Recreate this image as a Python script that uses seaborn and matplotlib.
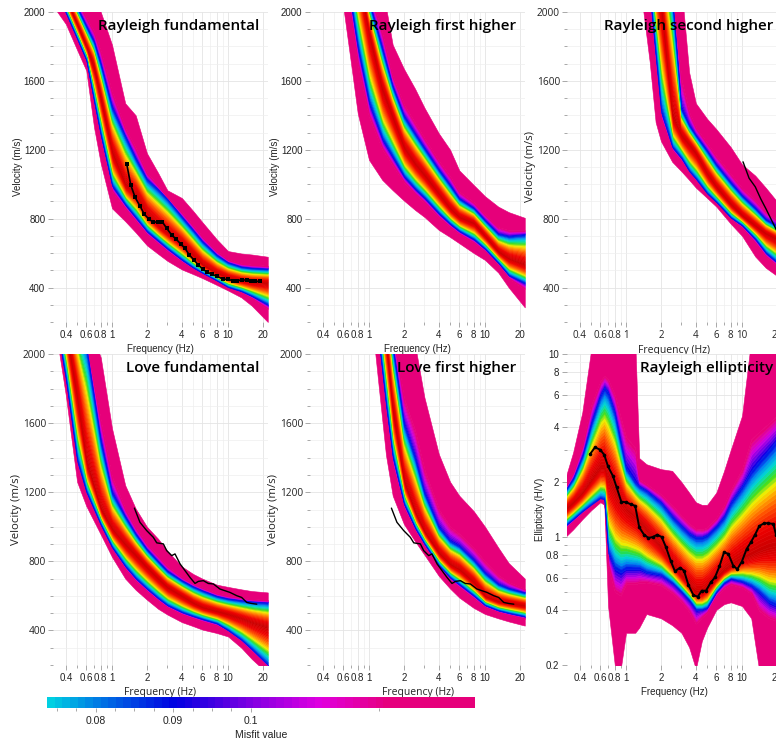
import numpy as np
import matplotlib
matplotlib.use("Agg")
import matplotlib.pyplot as plt
import seaborn as sns
from matplotlib.colors import LinearSegmentedColormap, Normalize
from matplotlib.cm import ScalarMappable
from matplotlib.ticker import FixedLocator, FixedFormatter, NullFormatter

# ---------------- data ----------------
# Rayleigh fundamental: ensemble envelopes (velocity m/s at each frequency)
rf_freq   = [0.3, 0.4, 0.5, 0.6, 0.7, 0.8, 1.0, 1.3, 1.6, 2, 2.5, 3, 4, 5, 6, 8, 10, 13, 16, 22]
rf_lo_out = [2050, 1930, 1780, 1660, 1330, 1120, 860, 785, 720, 645, 595, 555, 505, 478, 455, 415, 383, 343, 295, 200]
rf_lo_blu = [2176, 1993, 1843, 1719, 1477, 1280, 990, 880, 805, 725, 670, 625, 560, 515, 485, 440, 402, 378, 350, 300]
rf_best   = [2350, 2080, 1930, 1800, 1680, 1500, 1190, 1000, 945, 830, 765, 722, 657, 590, 535, 485, 460, 442, 433, 428]
rf_hi_blu = [2380, 2160, 2030, 1920, 1830, 1700, 1450, 1280, 1150, 1030, 970, 915, 812, 735, 670, 590, 547, 522, 515, 510]
rf_hi_out = [2400, 2300, 2200, 2120, 2060, 2000, 1810, 1470, 1400, 1180, 1065, 965, 920, 845, 780, 680, 612, 598, 592, 579]
rf_obs_f = [1.34, 1.45, 1.58, 1.74, 1.90, 2.08, 2.27, 2.51, 2.71, 2.96, 3.27, 3.56, 3.91, 4.26, 4.64,
            5.09, 5.55, 6.04, 6.55, 7.23, 7.98, 9.1, 10.0, 10.98, 12.0, 13.1, 14.5, 15.8, 17.2, 18.9]
rf_obs_v = [1116, 996, 924, 874, 825, 798, 779, 782, 782, 744, 705, 682, 653, 628, 589,
            560, 531, 508, 492, 477, 467, 448, 448, 440, 440, 444, 444, 438, 436, 436]

# Rayleigh first higher
r1_freq   = [0.6, 0.7, 0.8, 1.0, 1.3, 1.6, 2, 2.5, 3, 4, 5, 6, 8, 10, 13, 16, 22]
r1_lo_out = [2030, 1700, 1410, 1141, 1025, 965, 905, 850, 810, 734, 693, 657, 600, 560, 487, 400, 285]
r1_lo_blu = [2309, 2037, 1788, 1471, 1261, 1156, 1044, 971, 920, 829, 768, 726, 679, 623, 542, 470, 425]
r1_best   = [2650, 2450, 2250, 1876, 1550, 1390, 1215, 1120, 1055, 945, 860, 810, 775, 700, 610, 570, 535]
r1_hi_blu = [2750, 2570, 2390, 2065, 1790, 1570, 1397, 1293, 1211, 1085, 996, 918, 863, 792, 714, 700, 710]
r1_hi_out = [2900, 2750, 2600, 2350, 2150, 1810, 1670, 1553, 1445, 1295, 1200, 1080, 995, 930, 870, 838, 805]

# Rayleigh second higher
r2_freq   = [1.2, 1.4, 1.6, 1.8, 2, 2.5, 3, 3.5, 4, 5, 6, 8, 10, 13, 16, 20, 24]
r2_lo_out = [2350, 2020, 1710, 1360, 1250, 1130, 1075, 1025, 980, 920, 870, 770, 700, 580, 515, 468, 440]
r2_lo_blu = [2600, 2400, 2100, 1740, 1420, 1215, 1150, 1075, 1030, 945, 895, 805, 760, 680, 600, 545, 510]
r2_best   = [3000, 2800, 2500, 2250, 2050, 1400, 1285, 1230, 1180, 1062, 985, 885, 820, 760, 715, 680, 650]
r2_hi_blu = [3300, 3100, 2900, 2700, 2500, 2100, 1440, 1345, 1285, 1195, 1115, 1010, 935, 862, 797, 760, 730]
r2_hi_out = [3500, 3300, 3100, 2900, 2700, 2400, 2150, 1650, 1470, 1380, 1320, 1215, 1115, 1050, 980, 900, 860]
r2_obs_f = [10.2, 11.5, 13, 14.5, 16, 18, 20, 22]
r2_obs_v = [1130, 1035, 985, 915, 860, 790, 728, 690]

# Love fundamental
lf_freq   = [0.3, 0.35, 0.4, 0.5, 0.6, 0.8, 1.0, 1.3, 1.6, 2, 2.5, 3, 4, 5, 6, 8, 10, 13, 16, 22]
lf_lo_out = [2300, 2010, 1760, 1260, 1120, 955, 825, 700, 635, 578, 525, 492, 448, 425, 405, 385, 365, 300, 235, 150]
lf_lo_blu = [2350, 2080, 1850, 1380, 1200, 1010, 880, 770, 700, 640, 585, 545, 505, 482, 465, 440, 400, 345, 290, 200]
lf_best   = [2600, 2350, 2150, 1750, 1380, 1105, 990, 900, 835, 765, 700, 650, 600, 560, 535, 512, 495, 470, 448, 420]
lf_hi_blu = [2800, 2600, 2400, 2200, 2050, 1500, 1200, 1060, 960, 870, 800, 745, 690, 655, 632, 600, 585, 575, 568, 562]
lf_hi_out = [3000, 2800, 2600, 2400, 2200, 1980, 1570, 1240, 1105, 1000, 930, 860, 770, 727, 700, 665, 652, 638, 628, 620]

# Love first higher
l1_freq   = [0.9, 1.0, 1.2, 1.4, 1.6, 2, 2.5, 3, 4, 5, 6, 8, 10, 13, 16, 22]
l1_lo_out = [2600, 2350, 1840, 1415, 1180, 1015, 915, 838, 715, 642, 590, 530, 495, 470, 452, 428]
l1_lo_blu = [2800, 2550, 2100, 1700, 1400, 1130, 990, 900, 775, 705, 665, 600, 545, 515, 500, 480]
l1_best   = [3000, 2800, 2450, 2080, 1680, 1268, 1085, 975, 850, 785, 755, 680, 600, 570, 560, 545]
l1_hi_blu = [3200, 3000, 2700, 2400, 2050, 1600, 1400, 1200, 1000, 920, 890, 810, 735, 670, 645, 620]
l1_hi_out = [3500, 3300, 3000, 2700, 2400, 2200, 2050, 1750, 1420, 1260, 1180, 1090, 1000, 880, 790, 700]

# Love observed curve (shown on both Love panels)
love_obs_f = [1.56, 1.74, 1.99, 2.27, 2.43, 2.77, 2.96, 3.27, 3.49, 3.86, 4.26, 4.70, 5.19, 5.55, 6.13,
              6.76, 7.48, 8.5, 9.4, 10.4, 11.9, 13.1, 14.5, 16.0, 17.7]
love_obs_v = [1108, 1026, 978, 939, 907, 901, 862, 833, 843, 785, 746, 707, 672, 684, 688,
              672, 669, 640, 630, 620, 601, 591, 562, 556, 552]

# Rayleigh ellipticity (H/V)
el_freq   = [0.29, 0.35, 0.42, 0.5, 0.6, 0.65, 0.7, 0.8, 0.9, 1.0, 1.2, 1.3, 1.5, 2, 2.5,
             3, 3.5, 4, 4.5, 5, 6, 7, 8, 10, 12, 14, 17, 20, 24]
el_lo_out = [0.98, 1.1, 1.25, 1.4, 1.55, 1.5, 0.42, 0.2, 0.19, 0.3, 0.3, 0.32, 0.38, 0.36, 0.33,
             0.3, 0.25, 0.19, 0.27, 0.32, 0.4, 0.43, 0.44, 0.42, 0.36, 0.19, 0.19, 0.19, 0.19]
el_lo_blu = [1.13, 1.25, 1.38, 1.5, 1.63, 1.6, 0.82, 0.67, 0.64, 0.67, 0.67, 0.67, 0.64, 0.62, 0.56,
             0.5, 0.45, 0.4, 0.4, 0.41, 0.5, 0.56, 0.59, 0.57, 0.54, 0.5, 0.44, 0.42, 0.41]
el_best   = [1.39, 1.55, 1.75, 2.05, 2.4, 2.4, 2.1, 1.8, 1.6, 1.45, 1.3, 1.22, 1.1, 0.88, 0.72,
             0.62, 0.55, 0.5, 0.5, 0.53, 0.6, 0.66, 0.7, 0.76, 0.8, 0.84, 0.88, 0.9, 0.92]
el_hi_blu = [1.75, 2.1, 2.8, 4.2, 6.0, 6.6, 6.2, 4.8, 3.3, 2.4, 2.0, 1.9, 1.8, 1.55, 1.3,
             1.15, 1.05, 1.0, 1.0, 1.03, 1.15, 1.3, 1.55, 1.9, 2.3, 2.6, 3.0, 3.4, 3.8]
el_hi_out = [1.95, 2.9, 4.8, 10.5, 12, 12, 12, 12, 12, 12, 12, 2.7, 2.5, 2.35, 2.3,
             2.0, 1.75, 1.55, 1.5, 1.5, 1.75, 2.3, 3.0, 4.6, 12, 12, 12, 12, 12]
el_obs_f = [0.49, 0.54, 0.60, 0.65, 0.70, 0.77, 0.83, 0.91, 1.0, 1.10, 1.20, 1.30, 1.43, 1.56, 1.70,
            1.86, 2.03, 2.21, 2.43, 2.64, 2.92, 3.16, 3.45, 3.81, 4.15, 4.49, 4.89, 5.37, 5.84, 6.38,
            6.99, 7.62, 8.4, 9.1, 9.95, 10.95, 11.9, 12.9, 14.1, 15.5, 16.8, 18.6, 19.7]
el_obs_e = [2.84, 3.09, 3.0, 2.81, 2.43, 2.16, 1.87, 1.56, 1.55, 1.51, 1.48, 1.13, 1.03, 0.99, 1.0,
            1.03, 1.0, 0.88, 0.74, 0.65, 0.68, 0.655, 0.547, 0.482, 0.472, 0.509, 0.509, 0.565, 0.602, 0.691,
            0.825, 0.81, 0.697, 0.668, 0.733, 0.86, 0.935, 1.026, 1.15, 1.19, 1.19, 1.18, 1.02]

freq_ticks = [0.4, 0.6, 0.8, 1, 2, 4, 6, 8, 10, 20]
freq_tick_labels = ['0.4', '0.6', '0.8', '1', '2', '4', '6', '8', '10', '20']
vel_ticks = [400, 800, 1200, 1600, 2000]
ell_ticks = [0.2, 0.4, 0.6, 0.8, 1, 2, 4, 6, 8, 10]
ell_tick_labels = ['0.2', '0.4', '0.6', '0.8', '1', '2', '4', '6', '8', '10']
cbar_ticks = [0.08, 0.09, 0.1]
cbar_tick_labels = ['0.08', '0.09', '0.1']
titles = ['Rayleigh fundamental', 'Rayleigh first higher', 'Rayleigh second higher',
          'Love fundamental', 'Love first higher', 'Rayleigh ellipticity']

# ---------------- style ----------------
sns.set_theme(style="white")
plt.rcParams['font.family'] = ['Liberation Sans', 'DejaVu Sans']
UFONT = ['Open Sans', 'DejaVu Sans']

INNER = LinearSegmentedColormap.from_list('inner', [
    (0.00, '#C80000'), (0.22, '#EE0000'), (0.40, '#FF5500'), (0.52, '#FFAA00'),
    (0.60, '#F2EE00'), (0.70, '#33DD22'), (0.80, '#00DDD0'), (0.90, '#0088F0'), (1.00, '#0000E6')])
OUTER = LinearSegmentedColormap.from_list('outer', [
    (0.00, '#0000E6'), (0.07, '#7000E6'), (0.14, '#D400E0'), (0.22, '#E6007A'), (1.00, '#E6007A')])
CBAR = LinearSegmentedColormap.from_list('cbar', [
    (0.000, '#00D0E2'), (0.114, '#0078E4'), (0.295, '#0000E2'), (0.476, '#8000E2'),
    (0.640, '#E000E0'), (0.800, '#E6007E'), (1.000, '#E6007A')], N=56)

W, H = 776, 744
fig = plt.figure(figsize=(W / 100, H / 100), dpi=100)


def add_ax(left, top, w, h):
    return fig.add_axes([left / W, 1 - (top + h) / H, w / W, h / H])


def ensemble(ax, f, lo, lb, c, hb, ho, logy=False):
    f = np.asarray(f, float)
    arr = [np.asarray(a, float) for a in (lo, lb, c, hb, ho)]
    if logy:
        arr = [np.log10(a) for a in arr]
    lo, lb, c, hb, ho = arr
    back = (lambda a: 10.0 ** a) if logy else (lambda a: a)
    t_out = np.concatenate([np.linspace(0, 0.24, 9), [1.0]])
    t_in = np.linspace(0, 1, 25)
    for e_in, e_out in ((lb, lo), (hb, ho)):
        for a, b in zip(t_out[:-1], t_out[1:]):
            col = OUTER((a + b) / 2)
            ax.fill_between(f, back(e_in + a * (e_out - e_in)), back(e_in + b * (e_out - e_in)),
                            color=col, ec=col, lw=0.4, zorder=2)
        for a, b in zip(t_in[:-1], t_in[1:]):
            col = INNER((a + b) / 2)
            ax.fill_between(f, back(c + a * (e_in - c)), back(c + b * (e_in - c)),
                            color=col, ec=col, lw=0.4, zorder=3)


def style(ax, ell=False, ufont_y=False, ufont_x=False, ufont_xt=False):
    for s in ax.spines.values():
        s.set_visible(False)
    ax.set_xscale('log')
    ax.set_xlim(0.31, 22.1)
    ax.xaxis.set_major_locator(FixedLocator(freq_ticks))
    ax.xaxis.set_major_formatter(FixedFormatter(freq_tick_labels))
    ax.xaxis.set_minor_locator(FixedLocator([0.3, 0.5, 0.7, 0.9, 3, 5, 7, 9]))
    ax.xaxis.set_minor_formatter(NullFormatter())
    if ell:
        ax.set_yscale('log')
        ax.set_ylim(0.2, 10)
        ax.yaxis.set_major_locator(FixedLocator(ell_ticks))
        ax.yaxis.set_major_formatter(FixedFormatter(ell_tick_labels))
        ax.yaxis.set_minor_locator(FixedLocator([0.3, 0.5, 0.7, 0.9, 3, 5, 7, 9]))
        ax.yaxis.set_minor_formatter(NullFormatter())
    else:
        ax.set_ylim(200, 2000)
        ax.yaxis.set_major_locator(FixedLocator(vel_ticks))
        ax.yaxis.set_minor_locator(FixedLocator([v for v in range(200, 2001, 100) if v % 400]))
        ax.yaxis.set_minor_formatter(NullFormatter())
    ax.grid(True, which='major', color='#E4E4E4', lw=0.6)
    ax.grid(True, which='minor', color='#EEEEEE', lw=0.5)
    ax.set_axisbelow(True)
    ax.tick_params(which='both', direction='out', color='#9A9A9A', width=0.6,
                   bottom=True, left=True, labelcolor='#222222', pad=2)
    ax.tick_params(which='major', length=3.5)
    ax.tick_params(which='minor', length=2.2)
    ax.tick_params(axis='x', labelsize=7)
    ax.tick_params(axis='y', labelsize=7)
    if ufont_y:
        ax.tick_params(axis='y', labelsize=7.3, pad=1.6)
        for t in ax.get_yticklabels():
            t.set_family(UFONT)
    if ufont_xt:
        for t in ax.get_xticklabels():
            t.set_family(UFONT)
    xl_kw = dict(fontsize=7.5, family=UFONT) if ufont_x else dict(fontsize=7)
    ax.set_xlabel('Frequency (Hz)', labelpad=3, color='#222222', **xl_kw)
    ylab = 'Ellipticity (H/V)' if ell else 'Velocity (m/s)'
    yl_kw = dict(fontsize=8.2, family=UFONT) if ufont_y else dict(fontsize=7)
    ax.set_ylabel(ylab, labelpad=0.8, color='#222222', **yl_kw)


cols = [53, 310, 567]
rows = [(12, 310), (354, 311)]
axes = []
for r, (top, h) in enumerate(rows):
    for cidx, left in enumerate(cols):
        axes.append(add_ax(left, top, 215, h))

ax1, ax2, ax3, ax4, ax5, ax6 = axes

ensemble(ax1, rf_freq, rf_lo_out, rf_lo_blu, rf_best, rf_hi_blu, rf_hi_out)
ensemble(ax2, r1_freq, r1_lo_out, r1_lo_blu, r1_best, r1_hi_blu, r1_hi_out)
ensemble(ax3, r2_freq, r2_lo_out, r2_lo_blu, r2_best, r2_hi_blu, r2_hi_out)
ensemble(ax4, lf_freq, lf_lo_out, lf_lo_blu, lf_best, lf_hi_blu, lf_hi_out)
ensemble(ax5, l1_freq, l1_lo_out, l1_lo_blu, l1_best, l1_hi_blu, l1_hi_out)
ensemble(ax6, el_freq, el_lo_out, el_lo_blu, el_best, el_hi_blu, el_hi_out, logy=True)

style(ax1)
style(ax2)
style(ax3, ufont_y=True, ufont_x=True, ufont_xt=True)
style(ax4, ufont_y=True, ufont_x=True)
style(ax5, ufont_y=True, ufont_x=True)
style(ax6, ell=True)

line_kw = dict(color='black', estimator=None, sort=False, legend=False)
sns.lineplot(x=rf_obs_f, y=rf_obs_v, ax=ax1, lw=1.2, marker='s', markersize=2.6,
             markeredgewidth=0, zorder=6, **line_kw)
sns.lineplot(x=r2_obs_f, y=r2_obs_v, ax=ax3, lw=1.0, zorder=6, **line_kw)
sns.lineplot(x=love_obs_f, y=love_obs_v, ax=ax4, lw=1.0, zorder=6, **line_kw)
sns.lineplot(x=love_obs_f, y=love_obs_v, ax=ax5, lw=1.0, zorder=6, **line_kw)
sns.lineplot(x=el_obs_f, y=el_obs_e, ax=ax6, lw=1.4, marker='o', markersize=2.6,
             markeredgewidth=0, zorder=6, **line_kw)

for ax, t in zip(axes, titles):
    ax.text(0.958, 0.955, t, transform=ax.transAxes, ha='right', va='center',
            fontsize=11, family=UFONT, fontweight='semibold', color='black', zorder=10)

# colorbar
cax = add_ax(47, 697, 428, 11)
cb = fig.colorbar(ScalarMappable(norm=Normalize(0.0737, 0.129), cmap=CBAR), cax=cax,
                  orientation='horizontal')
cb.outline.set_visible(False)
cb.set_ticks(cbar_ticks)
cb.set_ticklabels(cbar_tick_labels)
cax.xaxis.set_minor_locator(FixedLocator([0.075, 0.0775, 0.0825, 0.085, 0.0875, 0.0925, 0.095,
                                          0.0975, 0.1166]))
cax.tick_params(which='both', direction='out', color='#9A9A9A', width=0.6, bottom=True,
                labelsize=7.5, labelcolor='#222222', pad=3)
cax.tick_params(which='major', length=3)
cax.tick_params(which='minor', length=2)
cb.set_label('Misfit value', fontsize=7.5, labelpad=3, color='#222222')

fig.savefig('out.png', dpi=100)
